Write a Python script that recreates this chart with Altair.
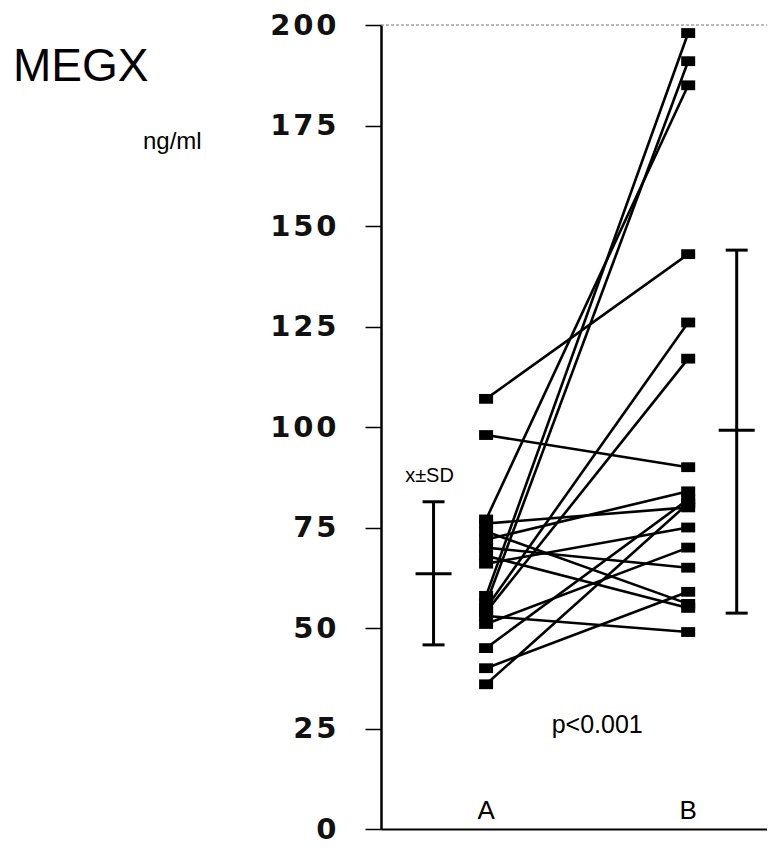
import altair as alt
import pandas as pd

# ---- data ----
subject_ids = list(range(1, 19))
a_values = [107, 98, 77, 76, 74, 72, 70, 68, 66, 58, 56, 55, 54, 53, 51, 45, 40, 36]
b_values = [143, 90, 185, 80, 56, 84, 65, 55, 75, 198, 191, 126, 117, 49, 70, 82, 59, 81]
groups = ["A", "B"]
group_means = [63.5, 99.2]
group_lower = [45.8, 53.7]
group_upper = [81.4, 144.0]
y_ticks = [0, 25, 50, 75, 100, 125, 150, 175, 200]

# ---- layout ----
W, H = 386, 804
X_POS = {"A": 0.0, "B": 1.0}
EB_POS = {"A": -0.26, "B": 1.24}
XDOM = [-0.52, 1.39]

rows = []
for s, a, b in zip(subject_ids, a_values, b_values):
    rows.append({"subject": s, "group": "A", "pos": X_POS["A"], "value": a})
    rows.append({"subject": s, "group": "B", "pos": X_POS["B"], "value": b})
df = pd.DataFrame(rows)

eb = pd.DataFrame({
    "group": groups,
    "pos": [EB_POS[g] for g in groups],
    "mean": group_means,
    "lower": group_lower,
    "upper": group_upper,
})

xs = alt.Scale(domain=XDOM, nice=False, zero=False)
ys = alt.Scale(domain=[0, 200], nice=False)

x_enc = alt.X("pos:Q", scale=xs,
              axis=alt.Axis(labels=False, ticks=False, grid=False, title=None,
                            domainColor="black", domainWidth=2))
y_enc = alt.Y("value:Q", scale=ys,
              axis=alt.Axis(values=y_ticks, grid=False, title=None,
                            labelExpr="join(split(datum.label, ''), '\u200a')",
                            labelFont="DejaVu Sans", labelFontSize=29, labelFontWeight="bold",
                            labelColor="#111",
                            labelPadding=29, tickColor="black", tickSize=16, tickWidth=1.5,
                            domainColor="black", domainWidth=2.5))

lines = alt.Chart(df).mark_line(color="black", strokeWidth=2.6).encode(
    x=x_enc, y=y_enc, detail="subject:N", order="pos:Q")

rect_shape = "M-1,-0.7L1,-0.7L1,0.7L-1,0.7Z"
points = alt.Chart(df).mark_point(shape=rect_shape, filled=True, size=196,
                                  color="black", opacity=1).encode(
    x=alt.X("pos:Q", scale=xs), y=alt.Y("value:Q", scale=ys))

eb_rule = alt.Chart(eb).mark_rule(color="black", strokeWidth=3).encode(
    x=alt.X("pos:Q", scale=xs), y=alt.Y("lower:Q", scale=ys), y2="upper:Q")

def cap(field, width):
    return alt.Chart(eb).mark_tick(color="black", thickness=3, size=width, opacity=1,
                                   orient="horizontal").encode(
        x=alt.X("pos:Q", scale=xs), y=alt.Y(f"{field}:Q", scale=ys))

cap_lo = cap("lower", 22)
cap_hi = cap("upper", 22)
cap_mean = cap("mean", 36)

top_border = alt.Chart(pd.DataFrame({"a": [0]})).mark_rule(
    color="#777", strokeWidth=1, strokeDash=[3, 2]).encode(
    x=alt.value(0), x2=alt.value(W), y=alt.value(0))

grp_lbl = alt.Chart(pd.DataFrame({"pos": [X_POS[g] for g in groups], "t": groups})).mark_text(
    font="Liberation Sans", fontSize=26, color="black", align="center",
    baseline="alphabetic").encode(
    x=alt.X("pos:Q", scale=xs), y=alt.value(H - 10), text="t:N")

def txt(s, x, y, size, align="left", font="Liberation Sans"):
    return alt.Chart(pd.DataFrame({"t": [s]})).mark_text(
        font=font, fontSize=size, color="black", align=align,
        baseline="alphabetic").encode(x=alt.value(x), y=alt.value(y), text="t:N")

def txt_data(s, pos, val, size):
    return alt.Chart(pd.DataFrame({"t": [s], "pos": [pos], "v": [val]})).mark_text(
        font="Liberation Sans", fontSize=size, color="black", align="center",
        baseline="alphabetic").encode(
        x=alt.X("pos:Q", scale=xs), y=alt.Y("v:Q", scale=ys), text="t:N")

megx = txt("MEGX", -368, 56, 46)
unit = txt("ng/ml", -238, 124, 24)
sd_lbl = txt_data("x\u00b1SD", -0.28, 86.3, 20)
pval = txt_data("p<0.001", 0.55, 23.9, 25)

chart = alt.layer(
    top_border, lines, points, eb_rule, cap_lo, cap_hi, cap_mean,
    grp_lbl, megx, unit, sd_lbl, pval
).properties(
    width=W, height=H, autosize="none",
    padding={"left": 373, "top": 17, "right": 0, "bottom": 15},
).configure_view(strokeWidth=0)

chart.save("out.html", embed_options={"renderer": "svg", "actions": False})
